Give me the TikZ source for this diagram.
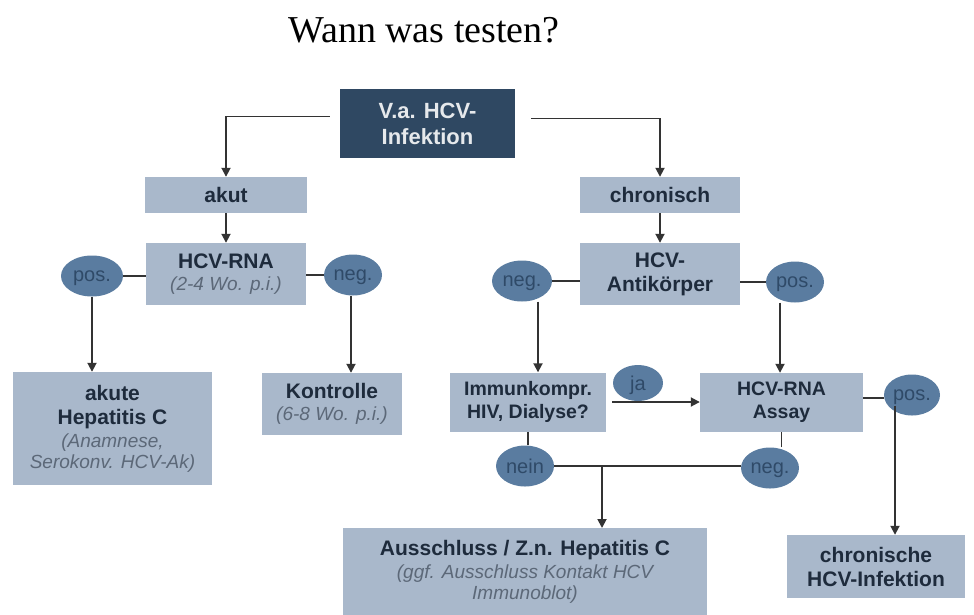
\documentclass[tikz,border=0pt]{standalone}
\usepackage{fontspec}
\setmainfont{Liberation Serif}
\setsansfont{Liberation Sans}
\usetikzlibrary{arrows.meta,shapes.geometric}

\definecolor{boxfill}{HTML}{A9B8CB}
\definecolor{darkfill}{HTML}{2F4862}
\definecolor{ovalfill}{HTML}{5A7CA0}
\definecolor{boxtext}{HTML}{1E2B3C}
\definecolor{ovaltext}{HTML}{2F4A68}
\definecolor{notetext}{HTML}{5C6878}
\definecolor{linecol}{HTML}{333333}

\newcommand{\note}[1]{{\fontsize{19}{22}\selectfont\mdseries\itshape\color{notetext}#1}}

\begin{document}
\begin{tikzpicture}[x=1pt,y=-1pt,
  box/.style={fill=boxfill,text=boxtext,inner sep=0pt,align=center,
    font=\sffamily\bfseries\fontsize{21}{24}\selectfont},
  darkbox/.style={fill=darkfill,text=white!88!darkfill,inner sep=0pt,align=center,
    font=\sffamily\bfseries\fontsize{22}{26}\selectfont},
  oval/.style={ellipse,fill=ovalfill,text=ovaltext,inner sep=0pt,text depth=0pt,
    minimum width=58pt,minimum height=41pt,font=\sffamily\fontsize{20}{22}\selectfont},
  link/.style={draw=linecol,line width=1.8pt},
  arr/.style={link,-{Triangle[length=9pt,width=9pt]}}]
\useasboundingbox (0,0) rectangle (974,614);

% title
\node (title) at (424,30) {\fontsize{38}{44}\selectfont Wann was testen?};

% top
\node[darkbox,minimum width=175pt,minimum height=69pt] (start) at (427.5,123.5) {V.a. HCV-\\Infektion};

% left branch
\node[box,minimum width=162pt,minimum height=36pt] (akut) at (226,195) {akut};
\node[box,minimum width=160pt,minimum height=62pt] (rnaA) at (226,274) {HCV-RNA\\[-2pt]\note{(2-4 Wo. p.i.)}};
\node[oval,minimum width=62pt] (posA) at (92,276) {pos.};
\node[oval] (negA) at (353,275) {neg.};
\node[box,minimum width=199pt,minimum height=113pt] (akute) at (112.5,428.5) {akute\\Hepatitis C\\[-1pt]\note{(Anamnese,}\\[-3pt]\note{Serokonv. HCV-Ak)}};
\node[box,minimum width=140pt,minimum height=62pt] (kontr) at (332,404) {Kontrolle\\[-2pt]\note{(6-8 Wo. p.i.)}};

% right branch
\node[box,minimum width=160pt,minimum height=36pt] (chron) at (660,195) {chronisch};
\node[box,minimum width=160pt,minimum height=62pt] (ak) at (660,274) {HCV-\\Antikörper};
\node[oval,minimum width=60pt] (negB) at (522,281) {neg.};
\node[oval] (posB) at (795,282) {pos.};
\node[box,minimum width=156pt,minimum height=59pt,font=\sffamily\bfseries\fontsize{19.5}{23}\selectfont] (immun) at (528,402) {Immunkompr.\\HIV, Dialyse?};
\node[oval,minimum width=50pt,minimum height=36pt] (ja) at (638,383) {ja};
\node[box,minimum width=163pt,minimum height=59pt,font=\sffamily\bfseries\fontsize{19.5}{23}\selectfont] (assay) at (781.5,402.5) {HCV-RNA\\Assay};
\node[oval,minimum width=56pt] (posC) at (912,395) {pos.};
\node[oval] (nein) at (525,466) {nein};
\node[oval] (negC) at (770,468) {neg.};
\node[box,minimum width=364pt,minimum height=88pt,anchor=north] (aus) at (525,528) {Ausschluss / Z.n. Hepatitis C\\[-1pt]\note{(ggf. Ausschluss Kontakt HCV}\\[-3pt]\note{Immunoblot)}};
\node[box,minimum width=178pt,minimum height=63pt] (chrinf) at (876,566.5) {chronische\\HCV-Infektion};

% connectors from the top
\draw[arr] ([xshift=-10pt,yshift=7pt]start.west) -| (akut.north);
\draw[arr] ([xshift=16pt,yshift=5pt]start.east) -| (chron.north);
\draw[arr] (akut) -- (rnaA);
\draw[arr] (chron) -- (ak);

% left results
\draw[link] (posA.east) -- (posA.east -| rnaA.west);
\draw[link] (negA.west) -- (negA.west -| rnaA.east);
\draw[arr] (posA.south) -- (posA.south |- akute.north);
\draw[arr] ([xshift=-2pt]negA.south) -- ([xshift=-2pt]negA.south |- kontr.north);

% right results
\draw[link] (negB.east) -- (negB.east -| ak.west);
\draw[link] (posB.west) -- (posB.west -| ak.east);
\draw[arr] ([xshift=16pt]negB.south) -- ([xshift=16pt]negB.south |- immun.north);
\draw[arr] ([xshift=-15pt]posB.south) -- ([xshift=-15pt]posB.south |- assay.north);
\draw[arr] ([xshift=6pt]immun.east) -- (immun.east -| assay.west);

\draw[link] ([yshift=-3pt]posC.west) -- ([yshift=-3pt]posC.west -| assay.east);
\coordinate (drop) at ([xshift=-17pt]posC.south);
\draw[arr] ([yshift=10pt]drop) -- (drop |- chrinf.north);

\draw[link] (nein.north -| immun.south) -- (immun.south);
\draw[link] (negC.north -| assay.south) -- (assay.south);
\draw[link] (nein.east) -- (nein.east -| negC.west);
\coordinate (split) at (602,466);
\draw[arr] (split) -- (split |- aus.north);
\end{tikzpicture}
\end{document}
